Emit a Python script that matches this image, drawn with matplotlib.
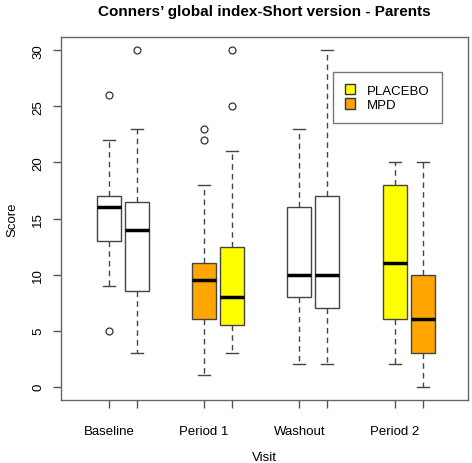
import matplotlib
matplotlib.use('Agg')
import matplotlib.pyplot as plt
from matplotlib.patches import Patch

plt.rcParams['font.family'] = ['Liberation Sans', 'DejaVu Sans']

# data (two boxes per visit)
visits = ['Baseline', 'Period 1', 'Washout', 'Period 2']
positions = [1, 2, 4.4, 5.4, 7.8, 8.8, 11.2, 12.2]
box_colors = ['white', 'white', '#FFA500', '#FFFF00',
              'white', 'white', '#FFFF00', '#FFA500']
whislo = [9, 3, 1, 3, 2, 2, 2, 0]
q1 = [13, 8.5, 6, 5.5, 8, 7, 6, 3]
med = [16, 14, 9.5, 8, 10, 10, 11, 6]
q3 = [17, 16.5, 11, 12.5, 16, 17, 18, 10]
whishi = [22, 23, 18, 21, 23, 30, 20, 20]
fliers = [[26, 5], [30], [23, 22], [30, 25], [], [], [], []]
legend_labels = ['PLACEBO', 'MPD']
legend_colors = ['#FFFF00', '#FFA500']

stats = []
for i in range(len(positions)):
    stats.append({'whislo': whislo[i], 'q1': q1[i], 'med': med[i],
                  'q3': q3[i], 'whishi': whishi[i], 'fliers': fliers[i]})

fig = plt.figure(figsize=(4.72, 4.64), dpi=100)
ax = fig.add_axes([61 / 472, 1 - 401 / 464, 407 / 472, 363 / 464])

bp = ax.bxp(stats, positions=positions, widths=0.85, patch_artist=True,
            boxprops=dict(edgecolor='#444444', linewidth=1),
            medianprops=dict(color='black', linewidth=2.5),
            whiskerprops=dict(color='#444444', linewidth=1, linestyle=(0, (4, 3))),
            capprops=dict(color='#444444', linewidth=1),
            capwidths=0.43,
            flierprops=dict(marker='o', markerfacecolor='none',
                            markeredgecolor='#333333', markersize=5,
                            markeredgewidth=0.9))
for patch, c in zip(bp['boxes'], box_colors):
    patch.set_facecolor(c)

ax.set_xlim(-0.71, 13.82)
ax.set_ylim(-1.2, 31.2)

# tick labels only under the first box of each pair
xlabels = []
for v in visits:
    xlabels += [v, '']
ax.set_xticks(positions)
ax.set_xticklabels(xlabels, fontsize=9.5)
ax.set_yticks([0, 5, 10, 15, 20, 25, 30])
ax.set_yticklabels(['0', '5', '10', '15', '20', '25', '30'],
                   fontsize=9.5, rotation=90, va='center')
ax.tick_params(axis='both', length=6, color='#555555', width=1, pad=6)
ax.tick_params(axis='x', pad=12)

for s in ax.spines.values():
    s.set_color('#666666')
    s.set_linewidth(1)

ax.set_xlabel('Visit', fontsize=9.5, labelpad=10)
ax.set_ylabel('Score', fontsize=9.5, labelpad=10)
fig.text(264.5 / 472, 1 - 12 / 464,
         'Conners\u2019 global index-Short version - Parents',
         fontsize=11, fontweight='bold', ha='center', va='center')

handles = [Patch(facecolor=c, edgecolor='#333333') for c in legend_colors]
leg = ax.legend(handles, legend_labels, loc='upper left',
                bbox_to_anchor=((333 - 61) / 407, 1 - (73 - 38) / 363),
                borderaxespad=0, fancybox=False, fontsize=9.5,
                handlelength=0.8, handleheight=0.8, handletextpad=0.9,
                borderpad=0.9, labelspacing=0.15, edgecolor='#555555')
leg.get_frame().set_linewidth(1)

fig.savefig('out.png', dpi=100)
